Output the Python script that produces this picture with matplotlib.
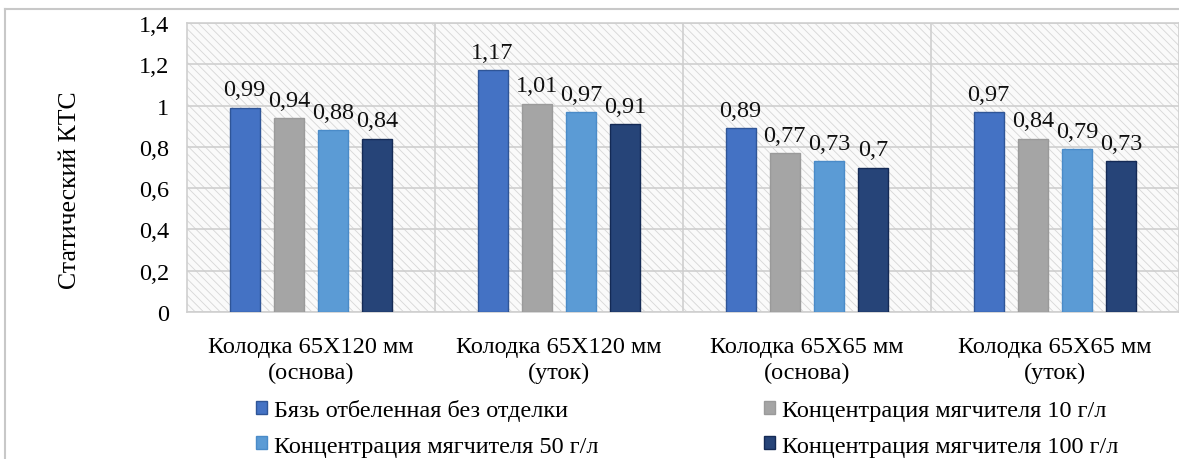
import matplotlib
matplotlib.use("Agg")
import matplotlib.pyplot as plt
from matplotlib.patches import Rectangle
from matplotlib.lines import Line2D
import numpy as np

categories = ["Колодка 65X120 мм\n(основа)", "Колодка 65X120 мм\n(уток)",
              "Колодка 65X65 мм\n(основа)", "Колодка 65X65 мм\n(уток)"]
series_names = ["Бязь отбеленная без отделки", "Концентрация мягчителя 10 г/л",
                "Концентрация мягчителя 50 г/л", "Концентрация мягчителя 100 г/л"]
s_base = [0.99, 1.17, 0.89, 0.97]
s_10 = [0.94, 1.01, 0.77, 0.84]
s_50 = [0.88, 0.97, 0.73, 0.79]
s_100 = [0.84, 0.91, 0.70, 0.73]
yticks = [0, 0.2, 0.4, 0.6, 0.8, 1.0, 1.2, 1.4]
ytick_labels = ["0", "0,2", "0,4", "0,6", "0,8", "1", "1,2", "1,4"]

colors = ["#4472C4", "#A5A5A5", "#5B9BD5", "#264478"]
edges = ["#2F5597", "#9A9A9A", "#4A8BC8", "#142A55"]

plt.rcParams['font.family'] = ['Liberation Serif', 'DejaVu Serif']
plt.rcParams['hatch.linewidth'] = 0.6

FS = 17.5
W, H = 1179, 460
fig = plt.figure(figsize=(W / 100, H / 100), dpi=100)
ax = fig.add_axes([187 / W, (H - 313) / H, (1179 - 187) / W, (313 - 24) / H])

# background
ax.set_facecolor("white")
bg = Rectangle((0, 0), 1, 1, transform=ax.transAxes, facecolor="#fafafa",
               edgecolor="#d6d6d6", hatch="\\\\\\\\", linewidth=0, zorder=0)
ax.add_patch(bg)

x = np.arange(len(categories))
offsets = [-0.268, -0.0895, 0.0895, 0.268]
bw = 0.121
all_series = [s_base, s_10, s_50, s_100]
handles = []
for i, (vals, name) in enumerate(zip(all_series, series_names)):
    bars = ax.bar(x + offsets[i], vals, bw, color=colors[i], edgecolor=edges[i],
                  linewidth=1.0, label=name, zorder=3)
    handles.append(bars)
    for b, v in zip(bars, vals):
        ax.text(b.get_x() + b.get_width() / 2, v + 0.035,
                f"{v:g}".replace(".", ","), ha="center", va="bottom",
                fontsize=FS, color="#111111", zorder=4)

ax.set_xlim(-0.5, 3.5)
ax.set_ylim(0, 1.4)
ax.set_yticks(yticks)
ax.set_yticklabels(ytick_labels, fontsize=FS)
ax.set_xticks(x)
ax.set_xticklabels(categories, fontsize=FS, linespacing=1.3)
ax.tick_params(axis="both", length=0)
ax.tick_params(axis="y", pad=13)
ax.tick_params(axis="x", pad=17)

ax.yaxis.grid(True, color="#cfcfcf", linewidth=1.2, zorder=1)
for xv in [0.5, 1.5, 2.5]:
    ax.axvline(xv, color="#cfcfcf", linewidth=1.2, zorder=1)
for sp in ax.spines.values():
    sp.set_color("#cfcfcf")
    sp.set_linewidth(1.2)
ax.set_axisbelow(True)

fig.text(70 / W, 1 - 190 / H, "Статический КТС", rotation=90, ha="center",
         va="center", fontsize=18.5)

order = [0, 2, 1, 3]
leg = fig.legend([handles[k] for k in order], [series_names[k] for k in order],
                 loc="upper left", bbox_to_anchor=(256 / W, 1 - 400 / H),
                 ncol=2, frameon=False, fontsize=FS, handlelength=0.45,
                 handleheight=0.45, handletextpad=0.3, columnspacing=6.8,
                 labelspacing=0.6, borderaxespad=0, borderpad=0)

# outer frame
fig.add_artist(Line2D([5 / W, 1], [1 - 10 / H, 1 - 10 / H], transform=fig.transFigure,
                      color="#c8c8c8", linewidth=1.5))
fig.add_artist(Line2D([5 / W, 5 / W], [0, 1 - 10 / H], transform=fig.transFigure,
                      color="#c8c8c8", linewidth=1.5))

fig.savefig("out.png", dpi=100)
